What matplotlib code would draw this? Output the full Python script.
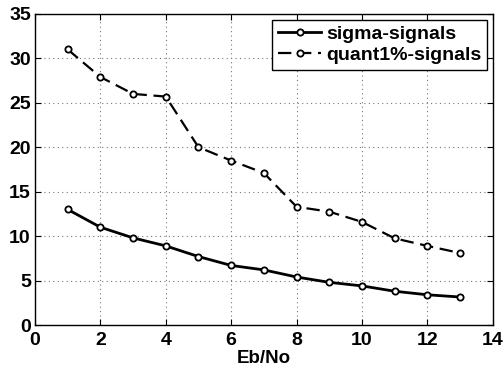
import matplotlib
matplotlib.use("Agg")
import matplotlib.pyplot as plt

plt.rcParams['font.family'] = ['Liberation Sans', 'DejaVu Sans']

x = [1, 2, 3, 4, 5, 6, 7, 8, 9, 10, 11, 12, 13]
sigma = [13.0, 11.0, 9.8, 8.9, 7.7, 6.7, 6.2, 5.4, 4.8, 4.4, 3.8, 3.4, 3.15]
quant = [31.0, 27.9, 26.0, 25.7, 20.0, 18.5, 17.1, 13.3, 12.75, 11.6, 9.75, 8.9, 8.1]
xticks = [0, 2, 4, 6, 8, 10, 12, 14]
yticks = [0, 5, 10, 15, 20, 25, 30, 35]

fig = plt.figure(figsize=(5.03, 3.66), dpi=100)
ax = fig.add_axes([0.0696, 0.112, 0.910, 0.850])
ax.plot(x, sigma, '-', color='black', lw=2.0, marker='o', ms=4.5, mfc='white', mec='black', mew=1.3, label='sigma-signals')
ax.plot(x, quant, '--', color='black', lw=1.6, dashes=(6, 3), marker='o', ms=4.5, mfc='white', mec='black', mew=1.3, label='quant1%-signals')
ax.set_xlim(0, 14)
ax.set_ylim(0, 35)
ax.set_xticks(xticks)
ax.set_yticks(yticks)
ax.grid(True, linestyle=(0, (1, 3)), color='#777777', lw=0.8)
for lbl in ax.get_xticklabels() + ax.get_yticklabels():
    lbl.set_fontweight('bold')
    lbl.set_fontsize(14)
ax.tick_params(axis='x', direction='in', length=4, pad=5, top=True)
ax.tick_params(axis='y', direction='in', length=4, pad=3, right=True)
ax.set_xlabel('Eb/No', fontweight='bold', fontsize=13.5, labelpad=1)
for s in ax.spines.values():
    s.set_linewidth(1.0)
leg = ax.legend(loc='upper right', prop={'weight': 'bold', 'size': 14}, frameon=True, fancybox=False,
                edgecolor='black', handlelength=2.2, borderpad=0.3, labelspacing=0.15, handletextpad=0.25,
                borderaxespad=0.3, framealpha=1)
leg.get_frame().set_linewidth(1.0)
fig.savefig('out.png', dpi=100)
